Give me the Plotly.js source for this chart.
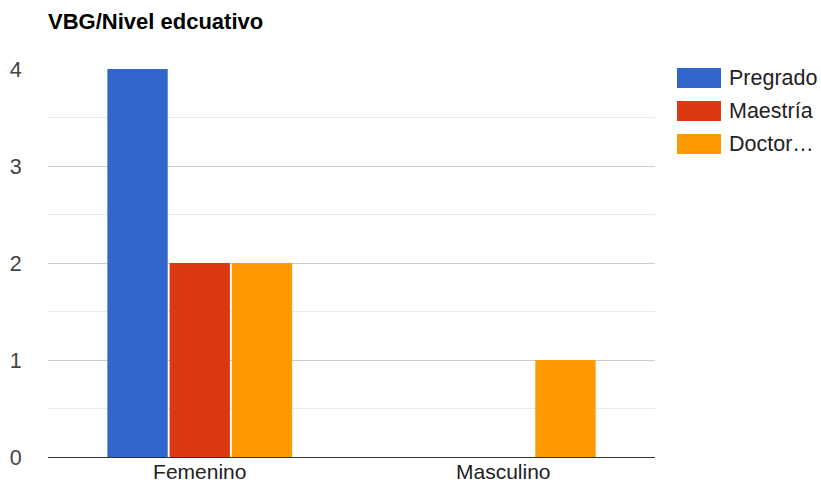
<!DOCTYPE html>
<html><head><meta charset="utf-8">
<script src="https://cdn.plot.ly/plotly-3.0.1.min.js"></script>
<style>html,body{margin:0;padding:0;background:#fff}</style>
</head><body>
<div id="chart" style="width:821px;height:489px"></div>
<script>
var categories = ["Femenino", "Masculino"];
var seriesNames = ["Pregrado", "Maestría", "Doctorado"];
var legendLabels = ["Pregrado", "Maestría", "Doctor…"];
var pregrado = [4, 0];
var maestria = [2, 0];
var doctorado = [2, 1];
var seriesValues = [pregrado, maestria, doctorado];
var colors = ["#3366cc", "#dc3912", "#ff9900"];

var W = 821, H = 489, mL = 48, mR = 166, mT = 69, mB = 32;
var pw = W - mL - mR, ph = H - mT - mB;
function px2x(p){ return (p - mL) / pw; }
function px2y(p){ return (H - mB - p) / ph; }
var FONT = 'Liberation Sans, Arial, sans-serif';

var traces = seriesValues.map(function(v, i){
  return {type:'bar', name:seriesNames[i], x:categories, y:v,
    marker:{color:colors[i], line:{width:0}}, showlegend:false, hoverinfo:'x+y+name'};
});

var shapes = [], annotations = [];
legendLabels.forEach(function(lbl, i){
  var top = 68 + i*33;
  shapes.push({type:'rect', xref:'paper', yref:'paper',
    x0:px2x(677), x1:px2x(721), y0:px2y(top+20), y1:px2y(top),
    fillcolor:colors[i], line:{width:0}});
  annotations.push({xref:'paper', yref:'paper', x:px2x(727), y:px2y(top+10),
    xanchor:'left', yanchor:'middle', showarrow:false, text:lbl,
    font:{family:FONT, size:21.5, color:'#222'}});
});

var layout = {
  width:W, height:H,
  margin:{l:mL, r:mR, t:mT, b:mB, pad:0},
  paper_bgcolor:'#fff', plot_bgcolor:'#fff',
  barmode:'group', bargap:0.385, bargroupgap:0.03,
  title:{text:'<b>VBG/Nivel edcuativo</b>', x:48/W, xanchor:'left', y:1-21.5/H, yanchor:'middle',
    font:{family:FONT, size:22, color:'#000'}},
  font:{family:FONT, size:21.5, color:'#444'},
  xaxis:{type:'category', range:[-0.5,1.5], showgrid:false, zeroline:false, showline:false,
    ticks:'', tickfont:{size:21, color:'#222'}},
  yaxis:{range:[0,4], tickvals:[0,1,2,3,4], ticktext:['0','1','2','3','4'],
    showgrid:true, gridcolor:'#cccccc', gridwidth:1,
    minor:{tickvals:[0.5,1.5,2.5,3.5], showgrid:true, gridcolor:'#ebebeb', gridwidth:1},
    zeroline:true, zerolinecolor:'#333', zerolinewidth:1.3, showline:false,
    ticks:'outside', ticklen:21, tickcolor:'rgba(0,0,0,0)', tickfont:{size:21.5, color:'#444'}},
  shapes:shapes, annotations:annotations
};
Plotly.newPlot('chart', traces, layout, {displayModeBar:false, responsive:false});
</script>
</body></html>
